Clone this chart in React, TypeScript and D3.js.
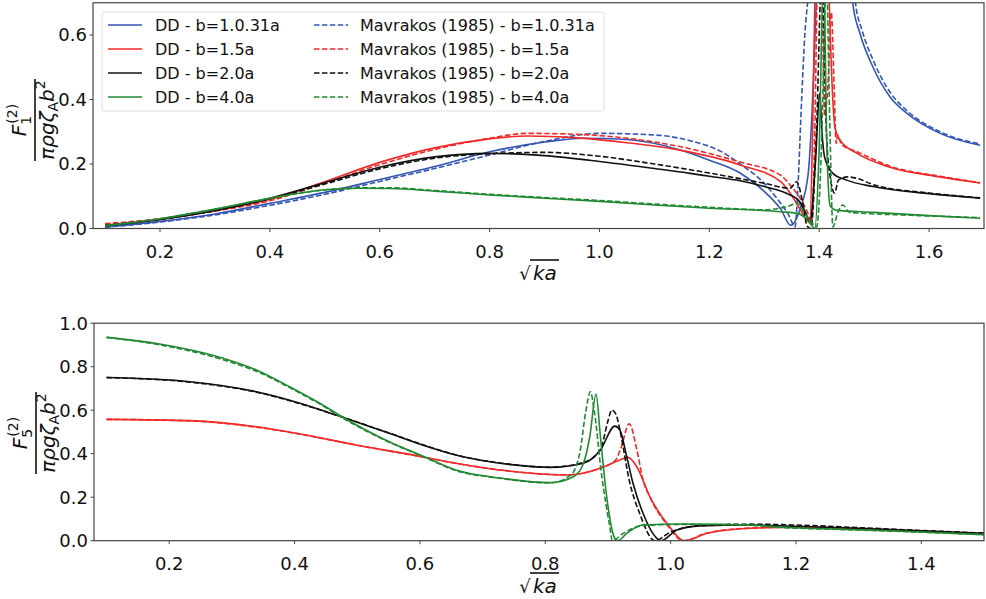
import React from "react";
import * as d3 from "d3";

// ---------- data: top panel (F1) ----------
const f1_DD_b1031: [number, number][] = [[0.1,0.005],[0.2,0.022],[0.3,0.045],[0.4,0.078],[0.5,0.112],[0.6,0.152],[0.7,0.192],[0.8,0.238],[0.9,0.268],[0.97,0.28],[1.05,0.276],[1.15,0.242],[1.2,0.212],[1.256,0.172],[1.3,0.115],[1.33,0.06],[1.348,0.01],[1.365,0.06],[1.38,0.17],[1.388,0.4],[1.395,0.72],[1.43,1.5],[1.455,0.85],[1.461,0.7],[1.474,0.606],[1.498,0.5],[1.529,0.408],[1.56,0.357],[1.62,0.295],[1.693,0.258]];
const f1_Mav_b1031: [number, number][] = [[0.1,0.004],[0.2,0.02],[0.3,0.042],[0.4,0.072],[0.5,0.106],[0.6,0.146],[0.7,0.186],[0.8,0.228],[0.9,0.27],[1.0,0.295],[1.1,0.29],[1.17,0.27],[1.22,0.24],[1.256,0.2],[1.3,0.14],[1.32,0.1],[1.345,0.04],[1.356,0.005],[1.361,0.12],[1.368,0.4],[1.374,0.605],[1.38,0.72],[1.42,1.5],[1.458,0.85],[1.466,0.7],[1.478,0.615],[1.5,0.515],[1.53,0.42],[1.56,0.365],[1.62,0.3],[1.693,0.262]];
const f1_DD_b15: [number, number][] = [[0.1,0.011],[0.2,0.028],[0.3,0.055],[0.4,0.09],[0.5,0.145],[0.6,0.205],[0.7,0.25],[0.8,0.278],[0.87,0.287],[0.96,0.281],[1.05,0.266],[1.146,0.243],[1.256,0.197],[1.33,0.145],[1.347,0.11],[1.365,0.06],[1.378,0.025],[1.383,0.017],[1.388,0.3],[1.392,0.7],[1.4,1.3],[1.412,1.3],[1.418,0.72],[1.42,0.606],[1.429,0.31],[1.438,0.274],[1.469,0.233],[1.529,0.19],[1.62,0.16],[1.693,0.141]];
const f1_Mav_b15: [number, number][] = [[0.1,0.015],[0.2,0.03],[0.3,0.054],[0.4,0.086],[0.5,0.14],[0.6,0.198],[0.7,0.245],[0.8,0.28],[0.87,0.295],[0.96,0.292],[1.05,0.28],[1.146,0.254],[1.256,0.206],[1.33,0.165],[1.347,0.135],[1.37,0.08],[1.38,0.045],[1.386,0.015],[1.392,0.3],[1.397,0.75],[1.404,0.75],[1.41,0.35],[1.416,0.45],[1.422,0.67],[1.427,0.45],[1.431,0.264],[1.434,0.29],[1.44,0.262],[1.469,0.238],[1.529,0.193],[1.62,0.162],[1.693,0.142]];
const f1_DD_b20: [number, number][] = [[0.1,0.008],[0.2,0.028],[0.3,0.056],[0.4,0.094],[0.5,0.142],[0.6,0.19],[0.7,0.222],[0.8,0.233],[0.9,0.226],[1.0,0.208],[1.1,0.186],[1.165,0.171],[1.2,0.162],[1.256,0.148],[1.3,0.13],[1.347,0.104],[1.362,0.088],[1.375,0.05],[1.383,0.02],[1.393,0.2],[1.401,0.42],[1.405,0.3],[1.41,0.22],[1.425,0.171],[1.45,0.15],[1.498,0.13],[1.6,0.108],[1.693,0.094]];
const f1_Mav_b20: [number, number][] = [[0.1,0.01],[0.2,0.029],[0.3,0.055],[0.4,0.092],[0.5,0.138],[0.6,0.185],[0.7,0.218],[0.8,0.232],[0.9,0.236],[1.0,0.224],[1.1,0.2],[1.2,0.172],[1.3,0.14],[1.347,0.125],[1.359,0.145],[1.37,0.08],[1.378,0.008],[1.385,0.0],[1.395,0.3],[1.405,0.8],[1.413,0.3],[1.42,0.16],[1.428,0.11],[1.435,0.15],[1.451,0.16],[1.47,0.155],[1.5,0.135],[1.6,0.11],[1.693,0.095]];
const f1_DD_b40: [number, number][] = [[0.1,0.008],[0.2,0.03],[0.3,0.06],[0.4,0.094],[0.5,0.12],[0.56,0.125],[0.62,0.124],[0.7,0.116],[0.8,0.104],[0.9,0.094],[1.0,0.084],[1.1,0.073],[1.2,0.063],[1.33,0.052],[1.36,0.047],[1.38,0.025],[1.392,0.0],[1.4,0.25],[1.408,0.8],[1.414,0.25],[1.42,0.07],[1.43,0.057],[1.5,0.05],[1.6,0.04],[1.693,0.032]];
const f1_Mav_b40: [number, number][] = [[0.1,0.009],[0.2,0.03],[0.3,0.06],[0.4,0.093],[0.5,0.12],[0.56,0.126],[0.62,0.126],[0.7,0.118],[0.8,0.106],[0.9,0.096],[1.0,0.087],[1.1,0.076],[1.2,0.066],[1.3,0.058],[1.345,0.07],[1.36,0.08],[1.372,0.05],[1.382,0.03],[1.395,0.005],[1.403,0.2],[1.408,0.5],[1.413,0.8],[1.419,0.35],[1.425,0.005],[1.434,0.05],[1.443,0.073],[1.455,0.05],[1.47,0.048],[1.55,0.042],[1.693,0.034]];

// ---------- data: bottom panel (F5) ----------
const f5_DD_b15: [number, number][] = [[0.1,0.558],[0.233,0.552],[0.339,0.524],[0.418,0.486],[0.498,0.44],[0.604,0.386],[0.657,0.356],[0.728,0.325],[0.834,0.302],[0.888,0.333],[0.919,0.371],[0.932,0.383],[0.946,0.34],[0.967,0.202],[0.994,0.08],[1.023,0.0],[1.058,0.034],[1.127,0.057],[1.2,0.062],[1.3,0.055],[1.4,0.043],[1.5,0.031]];
const f5_Mav_b15: [number, number][] = [[0.1,0.558],[0.233,0.551],[0.339,0.522],[0.418,0.485],[0.498,0.44],[0.604,0.385],[0.657,0.356],[0.728,0.325],[0.834,0.303],[0.888,0.335],[0.912,0.37],[0.92,0.42],[0.934,0.537],[0.946,0.42],[0.956,0.279],[0.967,0.2],[0.994,0.075],[1.02,0.0],[1.058,0.035],[1.127,0.058],[1.2,0.062],[1.3,0.055],[1.4,0.043],[1.5,0.031]];
const f5_DD_b20: [number, number][] = [[0.1,0.75],[0.233,0.731],[0.339,0.685],[0.418,0.624],[0.471,0.573],[0.551,0.494],[0.604,0.44],[0.657,0.394],[0.742,0.351],[0.808,0.337],[0.861,0.356],[0.888,0.417],[0.911,0.527],[0.919,0.509],[0.93,0.386],[0.94,0.264],[0.956,0.126],[0.978,0.011],[0.985,0.0],[1.01,0.049],[1.047,0.068],[1.127,0.072],[1.171,0.069],[1.3,0.057],[1.4,0.046],[1.5,0.034]];
const f5_Mav_b20: [number, number][] = [[0.1,0.75],[0.233,0.729],[0.339,0.683],[0.418,0.622],[0.471,0.573],[0.551,0.495],[0.604,0.442],[0.657,0.395],[0.742,0.352],[0.808,0.338],[0.861,0.36],[0.888,0.42],[0.9,0.55],[0.906,0.601],[0.913,0.58],[0.919,0.51],[0.935,0.265],[0.95,0.13],[0.975,0.0],[1.0,0.04],[1.05,0.07],[1.127,0.076],[1.2,0.072],[1.3,0.06],[1.4,0.047],[1.5,0.035]];
const f5_DD_b40: [number, number][] = [[0.1,0.935],[0.18,0.907],[0.286,0.839],[0.339,0.785],[0.392,0.708],[0.445,0.624],[0.471,0.578],[0.551,0.455],[0.604,0.39],[0.657,0.325],[0.728,0.288],[0.808,0.267],[0.845,0.294],[0.861,0.356],[0.871,0.478],[0.881,0.674],[0.888,0.478],[0.898,0.202],[0.911,0.011],[0.916,0.0],[0.93,0.034],[0.956,0.072],[1.02,0.077],[1.127,0.072],[1.171,0.063],[1.3,0.05],[1.4,0.04],[1.5,0.028]];
const f5_Mav_b40: [number, number][] = [[0.1,0.935],[0.18,0.903],[0.286,0.832],[0.339,0.779],[0.392,0.704],[0.445,0.62],[0.471,0.574],[0.551,0.453],[0.604,0.388],[0.657,0.323],[0.728,0.287],[0.808,0.266],[0.84,0.3],[0.855,0.403],[0.865,0.6],[0.872,0.685],[0.878,0.6],[0.89,0.3],[0.903,0.064],[0.907,0.0],[0.925,0.035],[0.956,0.07],[1.02,0.075],[1.127,0.071],[1.171,0.062],[1.3,0.049],[1.4,0.039],[1.5,0.028]];

const topXTicks = [0.2, 0.4, 0.6, 0.8, 1.0, 1.2, 1.4, 1.6];
const topYTicks = [0.0, 0.2, 0.4, 0.6];
const botXTicks = [0.2, 0.4, 0.6, 0.8, 1.0, 1.2, 1.4];
const botYTicks = [0.0, 0.2, 0.4, 0.6, 0.8, 1.0];

const legendDD = ["DD - b=1.0.31a", "DD - b=1.5a", "DD - b=2.0a", "DD - b=4.0a"];
const legendMav = ["Mavrakos (1985) - b=1.0.31a", "Mavrakos (1985) - b=1.5a", "Mavrakos (1985) - b=2.0a", "Mavrakos (1985) - b=4.0a"];

const BLUE = "#3355b3";
const RED = "#f02828";
const BLACK = "#111111";
const GREEN = "#228833";
const colors = [BLUE, RED, BLACK, GREEN];
const DASH = "5.5,2.4";
const FONT = "DejaVu Sans, sans-serif";

const topSeries = [
  { d: f1_DD_b1031, c: BLUE, dash: false }, { d: f1_Mav_b1031, c: BLUE, dash: true },
  { d: f1_DD_b15, c: RED, dash: false }, { d: f1_Mav_b15, c: RED, dash: true },
  { d: f1_DD_b20, c: BLACK, dash: false }, { d: f1_Mav_b20, c: BLACK, dash: true },
  { d: f1_DD_b40, c: GREEN, dash: false }, { d: f1_Mav_b40, c: GREEN, dash: true },
];
const botSeries = [
  { d: f5_DD_b15, c: RED, dash: false }, { d: f5_Mav_b15, c: RED, dash: true },
  { d: f5_DD_b20, c: BLACK, dash: false }, { d: f5_Mav_b20, c: BLACK, dash: true },
  { d: f5_DD_b40, c: GREEN, dash: false }, { d: f5_Mav_b40, c: GREEN, dash: true },
];

function Panel({ xs, ys, xTicks, yTicks, series, id }: any) {
  const [x0, x1] = xs.range();
  const [y0, y1] = ys.range();
  const line = d3.line<[number, number]>().x((p) => xs(p[0])).y((p) => ys(p[1])).curve(d3.curveMonotoneX);
  return (
    <g>
      <defs>
        <clipPath id={id}>
          <rect x={x0} y={y1} width={x1 - x0} height={y0 - y1} />
        </clipPath>
      </defs>
      <g clipPath={`url(#${id})`}>
        {series.map((s: any, i: number) => (
          <path key={i} d={line(s.d) || ""} fill="none" stroke={s.c} strokeWidth={1.6}
            strokeDasharray={s.dash ? DASH : undefined} strokeLinejoin="round" />
        ))}
      </g>
      <rect x={x0} y={y1} width={x1 - x0} height={y0 - y1} fill="none" stroke="#444" strokeWidth={1.2} />
      {xTicks.map((t: number) => (
        <g key={"x" + t}>
          <line x1={xs(t)} x2={xs(t)} y1={y0} y2={y0 + 3.5} stroke="#444" strokeWidth={1} />
          <text x={xs(t)} y={y0 + 29} textAnchor="middle" fontSize={18} fontFamily={FONT} fill="#111">{t.toFixed(1)}</text>
        </g>
      ))}
      {yTicks.map((t: number) => (
        <g key={"y" + t}>
          <line x1={x0 - 3.5} x2={x0} y1={ys(t)} y2={ys(t)} stroke="#444" strokeWidth={1} />
          <text x={x0 - 6} y={ys(t)} dy="0.36em" textAnchor="end" fontSize={18} fontFamily={FONT} fill="#111">{t.toFixed(1)}</text>
        </g>
      ))}
    </g>
  );
}

function SqrtLabel({ cx, baseline }: { cx: number; baseline: number }) {
  return (
    <g fontFamily={FONT} fontSize={20} fill="#111">
      <text x={cx - 12} y={baseline} textAnchor="middle" fontSize={18}>√</text>
      <text x={cx - 4} y={baseline} fontStyle="italic">ka</text>
      <line x1={cx - 7} x2={cx + 22} y1={baseline - 20} y2={baseline - 20} stroke="#111" strokeWidth={1.6} />
    </g>
  );
}

function FracLabel({ x, cy, sub }: { x: number; cy: number; sub: string }) {
  return (
    <g transform={`translate(${x},${cy}) rotate(-90)`} fontFamily={FONT} fill="#111">
      <text x={0} y={-9} textAnchor="middle" fontSize={20}>
        <tspan fontStyle="italic">F</tspan>
        <tspan fontSize={14} dy={5}>{sub}</tspan>
        <tspan fontSize={14} dx={-8} dy={-14}>(2)</tspan>
      </text>
      <line x1={-41} x2={41} y1={0} y2={0} stroke="#111" strokeWidth={1.6} />
      <text x={0} y={19} textAnchor="middle" fontSize={20}>
        <tspan fontStyle="italic">πρgζ</tspan>
        <tspan fontSize={14} dy={4}>A</tspan>
        <tspan fontStyle="italic" dy={-4}>b</tspan>
        <tspan fontSize={14} dy={-9}>2</tspan>
      </text>
    </g>
  );
}

export default function App() {
  const topX = d3.scaleLinear().domain([0.078, 1.7]).range([93, 984]);
  const topY = d3.scaleLinear().domain([0, 0.7]).range([228.5, 2.75]);
  const botX = d3.scaleLinear().domain([0.08, 1.5]).range([94, 984]);
  const botY = d3.scaleLinear().domain([0, 1]).range([540.7, 323.2]);

  const lgX = 102, lgY = 12, lgW = 502, lgH = 99;
  const rowY = [25, 49, 73, 97];

  return (
    <svg width={986} height={599} style={{ position: "absolute", left: 0, top: 0, background: "#fff" }}>
      <rect x={0} y={0} width={986} height={599} fill="#fff" />
      <Panel xs={topX} ys={topY} xTicks={topXTicks} yTicks={topYTicks} series={topSeries} id="clipTop" />
      <Panel xs={botX} ys={botY} xTicks={botXTicks} yTicks={botYTicks} series={botSeries} id="clipBot" />

      <SqrtLabel cx={537} baseline={280} />
      <SqrtLabel cx={537} baseline={593} />
      <FracLabel x={35} cy={120} sub="1" />
      <FracLabel x={36} cy={433} sub="5" />

      <g fontFamily={FONT} fontSize={16} fill="#111">
        <rect x={lgX} y={lgY} width={lgW} height={lgH} rx={3} fill="#fff" fillOpacity={0.8} stroke="#dddddd" strokeWidth={1} />
        {legendDD.map((t, i) => (
          <g key={"dd" + i}>
            <line x1={108} x2={142} y1={rowY[i]} y2={rowY[i]} stroke={colors[i]} strokeWidth={1.6} />
            <text x={155} y={rowY[i]} dy="0.36em">{t}</text>
          </g>
        ))}
        {legendMav.map((t, i) => (
          <g key={"mv" + i}>
            <line x1={314} x2={348} y1={rowY[i]} y2={rowY[i]} stroke={colors[i]} strokeWidth={1.6} strokeDasharray={DASH} />
            <text x={360} y={rowY[i]} dy="0.36em">{t}</text>
          </g>
        ))}
      </g>
    </svg>
  );
}
